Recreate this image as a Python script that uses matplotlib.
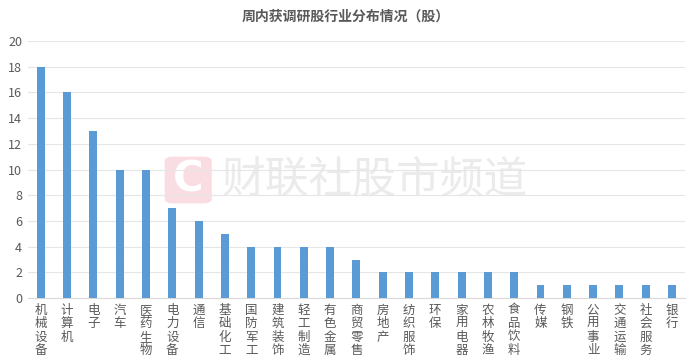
import matplotlib
matplotlib.use("Agg")
import matplotlib.pyplot as plt
from matplotlib.patches import FancyBboxPatch

plt.rcParams['font.family'] = ['Noto Sans CJK SC', 'DejaVu Sans']

categories = ["机械设备", "计算机", "电子", "汽车", "医药生物", "电力设备", "通信", "基础化工",
              "国防军工", "建筑装饰", "轻工制造", "有色金属", "商贸零售", "房地产", "纺织服饰", "环保",
              "家用电器", "农林牧渔", "食品饮料", "传媒", "钢铁", "公用事业", "交通运输", "社会服务", "银行"]
values = [18, 16, 13, 10, 10, 7, 6, 5, 4, 4, 4, 4, 3, 2, 2, 2, 2, 2, 2, 1, 1, 1, 1, 1, 1]
yticks = [0, 2, 4, 6, 8, 10, 12, 14, 16, 18, 20]
title = "周内获调研股行业分布情况（股）"

fig = plt.figure(figsize=(6.92, 3.6), dpi=100)
ax = fig.add_axes([0.040, 0.172, 0.950, 0.714])

# watermark
fig.patches.append(FancyBboxPatch((0.238, 0.435), 0.068, 0.13, boxstyle="round,pad=0,rounding_size=0.012",
                                  transform=fig.transFigure, facecolor="#f9dde2", edgecolor="none", zorder=0))
fig.text(0.272, 0.50, "C", ha="center", va="center", fontsize=30, color="white", fontweight="bold",
         family=['DejaVu Sans'], zorder=1)
fig.text(0.32, 0.50, "财联社股市频道", ha="left", va="center", fontsize=31.5, color="#ebebeb", zorder=1)

x = list(range(len(categories)))
ax.bar(x, values, width=0.3, color="#5b9bd5", zorder=3)
ax.set_xlim(-0.5, len(categories) - 0.5)
ax.set_ylim(0, 20)
ax.set_yticks(yticks)
ax.set_yticklabels([str(v) for v in yticks], fontsize=9, color="#595959")
ax.set_xticks(x)
ax.set_xticklabels(["\n".join(c) for c in categories], fontsize=9, color="#595959",
                   linespacing=1.05, va="top")
ax.tick_params(axis='both', length=0, pad=4)
ax.grid(axis='y', color="#e6e6e6", linewidth=0.8, zorder=0)
for s in ["top", "right", "left"]:
    ax.spines[s].set_visible(False)
ax.spines["bottom"].set_color("#d9d9d9")
ax.patch.set_alpha(0)
ax.set_zorder(2)

fig.text(0.5, 0.953, title, ha="center", va="center", fontsize=10, color="#595959", fontweight="bold")

fig.savefig("out.png", dpi=100)
